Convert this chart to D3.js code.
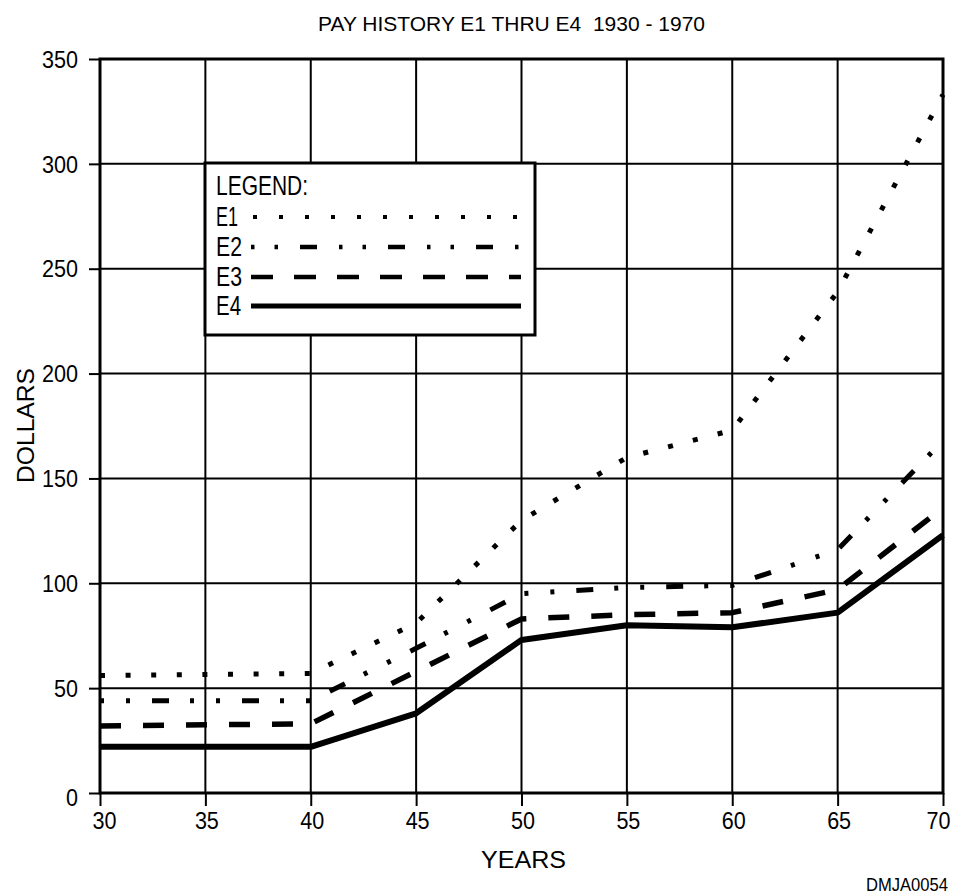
<!DOCTYPE html>
<html>
<head>
<meta charset="utf-8">
<script src="https://cdn.jsdelivr.net/npm/d3@7"></script>
<style>
  html, body { margin: 0; padding: 0; background: #fff; }
  svg { display: block; font-family: "Liberation Sans Narrow", "Liberation Sans", Arial, Helvetica, sans-serif; }
  text { white-space: pre; }
</style>
</head>
<body>
<svg id="chart" width="963" height="894"></svg>
<script>
// ---- data ----
const years = [30, 40, 45, 50, 55, 60, 65, 70];
const e1 = [56, 57, 81, 130, 160, 173, 239, 333];
const e2 = [44, 44, 69, 95, 98, 99, 116, 168];
const e3 = [32, 33, 58, 83, 85, 86, 97, 136];
const e4 = [22, 22, 38, 73, 80, 79, 86, 123];
const seriesNames = ["E1", "E2", "E3", "E4"];
const xTicks = [30, 35, 40, 45, 50, 55, 60, 65, 70];
const yTicks = [0, 50, 100, 150, 200, 250, 300, 350];
const titleText = "PAY HISTORY E1 THRU E4  1930 - 1970";
const xLabel = "YEARS";
const yLabel = "DOLLARS";
const codeText = "DMJA0054";

// ---- styles ----
const styles = {
  E1: { width: 5, dash: "5,20.6" },
  E2: { width: 5, dash: "4,22,4,22,17,21" },
  E3: { width: 5.5, dash: "21,22" },
  E4: { width: 6, dash: null }
};
const legendStyles = {
  E1: { width: 4, dash: "4,22" },
  E2: { width: 4.5, dash: "3.5,20,3.5,22,17,22" },
  E3: { width: 4.5, dash: "22,21" },
  E4: { width: 5, dash: null }
};
const fontStack = '"Liberation Sans Narrow", "Liberation Sans", Arial, sans-serif';

const svg = d3.select("#chart");
const x = d3.scaleLinear().domain([30, 70]).range([100, 943]);
const y = d3.scaleLinear().domain([0, 350]).range([793, 59]);

// grid
const g = svg.append("g");
g.selectAll("line.vg").data(xTicks.slice(1, -1)).join("line")
  .attr("x1", d => x(d)).attr("x2", d => x(d))
  .attr("y1", y(0)).attr("y2", y(350))
  .attr("stroke", "#000").attr("stroke-width", 2);
g.selectAll("line.hg").data(yTicks.slice(1, -1)).join("line")
  .attr("x1", x(30)).attr("x2", x(70))
  .attr("y1", d => y(d)).attr("y2", d => y(d))
  .attr("stroke", "#000").attr("stroke-width", 2);

// axes
const xAxis = svg.append("g").attr("transform", `translate(0,${y(0)})`)
  .call(d3.axisBottom(x).tickValues(xTicks).tickSize(13).tickPadding(6).tickFormat(d3.format("d")));
const yAxis = svg.append("g").attr("transform", `translate(${x(30)},0)`)
  .call(d3.axisLeft(y).tickValues(yTicks).tickSize(11).tickPadding(11).tickFormat(d3.format("d")));
[xAxis, yAxis].forEach(a => {
  a.select(".domain").remove();
  a.selectAll(".tick line").attr("stroke", "#000").attr("stroke-width", 2);
  a.selectAll(".tick text").attr("fill", "#000").style("font-size", "24px")
    .style("font-family", fontStack)
    .attr("textLength", d => String(d).length * 12)
    .attr("lengthAdjust", "spacingAndGlyphs");
});
xAxis.selectAll(".tick text").attr("dx", d => d === 30 ? 4 : (d === 70 ? -5 : 1));
yAxis.selectAll(".tick text").attr("dy", d => d === 0 ? "0.52em" : "0.34em");

// frame
svg.append("rect")
  .attr("x", x(30)).attr("y", y(350))
  .attr("width", x(70) - x(30)).attr("height", y(0) - y(350))
  .attr("fill", "none").attr("stroke", "#000").attr("stroke-width", 3);

// series lines
const seriesData = [e1, e2, e3, e4];
const line = d3.line().x(d => x(d[0])).y(d => y(d[1]));
seriesNames.forEach((name, i) => {
  const pts = years.map((yr, j) => [yr, seriesData[i][j]]);
  const p = svg.append("path").datum(pts)
    .attr("d", line)
    .attr("fill", "none").attr("stroke", "#000")
    .attr("stroke-width", styles[name].width)
    .attr("stroke-linejoin", "round")
    .attr("stroke-linecap", "butt");
  if (styles[name].dash) p.attr("stroke-dasharray", styles[name].dash);
});

// legend
const lg = svg.append("g");
lg.append("rect").attr("x", 205).attr("y", 163).attr("width", 330).attr("height", 172)
  .attr("fill", "#fff").attr("stroke", "#000").attr("stroke-width", 3);
lg.append("text").attr("x", 216).attr("y", 195).text("LEGEND:")
  .style("font-size", "27px").attr("textLength", 92).attr("lengthAdjust", "spacingAndGlyphs");
const legY = [217, 247, 277, 306];
const legBase = [226, 256, 286, 315];
const legW = [22, 26, 26, 25];
seriesNames.forEach((name, i) => {
  lg.append("text").attr("x", 216).attr("y", legBase[i]).text(name)
    .style("font-size", "27px").attr("textLength", legW[i]).attr("lengthAdjust", "spacingAndGlyphs");
  const l = lg.append("line")
    .attr("x1", name === "E1" ? 253 : 251).attr("x2", 521)
    .attr("y1", legY[i]).attr("y2", legY[i])
    .attr("stroke", "#000").attr("stroke-width", legendStyles[name].width);
  if (legendStyles[name].dash) l.attr("stroke-dasharray", legendStyles[name].dash);
});

// texts
svg.append("text").attr("x", 318).attr("y", 31)
  .style("font-size", "21px").attr("textLength", 387).attr("lengthAdjust", "spacingAndGlyphs")
  .text(titleText);
svg.append("text").attr("x", 481).attr("y", 868)
  .style("font-size", "23px").attr("textLength", 85).attr("lengthAdjust", "spacingAndGlyphs")
  .text(xLabel);
svg.append("text").attr("transform", "translate(34,483) rotate(-90)")
  .style("font-size", "24px").attr("textLength", 115).attr("lengthAdjust", "spacingAndGlyphs")
  .text(yLabel);
svg.append("text").attr("x", 866).attr("y", 891)
  .style("font-size", "18px").attr("textLength", 82).attr("lengthAdjust", "spacingAndGlyphs")
  .text(codeText);
</script>
</body>
</html>
